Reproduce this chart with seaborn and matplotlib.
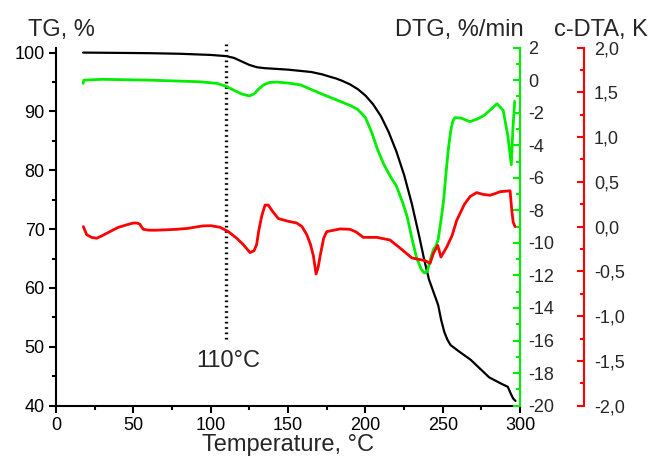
import numpy as np
import pandas as pd
import matplotlib
matplotlib.use("Agg")
import matplotlib.pyplot as plt
import seaborn as sns
from matplotlib.ticker import MultipleLocator, FuncFormatter

# --- data ---
tg_temp = [17.5, 40, 60, 80, 100, 110, 115, 120, 125, 130, 135, 150, 165, 172,
           177, 181, 185, 190, 195, 200, 205, 210, 215, 220, 225, 230, 235, 238,
           241, 244, 247, 249, 251, 253, 255, 260, 268, 280, 288, 292, 294,
           295.5, 297]
tg_val = [100.0, 99.95, 99.9, 99.8, 99.6, 99.4, 99.1, 98.5, 97.9, 97.5, 97.35,
          97.1, 96.7, 96.3, 95.9, 95.6, 95.2, 94.6, 93.8, 92.7, 91.2, 89.2,
          86.5, 83.2, 79.2, 74.3, 68.5, 64.8, 61.5, 59.3, 57.1, 54.5, 52.5,
          51.2, 50.3, 49.3, 47.8, 44.8, 43.7, 43.2, 42.0, 41.2, 40.8]

dtg_temp = [17.5, 18, 30, 60, 93, 104, 110, 115, 120, 125, 128, 131, 134, 138,
            143, 150, 158, 168, 177, 184, 190, 195, 200, 204, 208, 212, 216,
            220, 224, 227, 230, 233, 236, 238, 240, 242, 244, 245.5, 247, 249,
            250.5, 252, 253.5, 255, 256.5, 258, 262, 267.6, 272, 277, 281, 285,
            289, 292, 294.3, 295.3, 296.5]
dtg_val = [-0.2, 0.0, 0.05, 0.0, -0.1, -0.2, -0.38, -0.62, -0.85, -0.97, -0.85,
           -0.55, -0.3, -0.14, -0.12, -0.18, -0.29, -0.7, -1.05, -1.32, -1.55,
           -1.8, -2.3, -3.2, -4.3, -5.2, -5.9, -6.5, -7.5, -8.4, -9.7, -10.9,
           -11.6, -11.85, -11.75, -11.0, -10.4, -10.2, -9.8, -8.5, -7.4, -5.8,
           -4.3, -3.2, -2.5, -2.3, -2.34, -2.55, -2.4, -2.15, -1.8, -1.45, -1.85,
           -3.4, -5.2, -3.0, -1.3]

dta_temp = [17.7, 19.8, 23, 26.3, 30, 34.9, 40, 45.7, 50, 52.2, 54, 56.4, 60,
            65, 72, 78, 85, 95, 100, 106, 111.4, 116.8, 121, 125.4, 128, 129.7,
            131, 133, 135.1, 137.2, 140, 143.7, 150, 155.6, 159, 162.1, 164.5,
            166.4, 168.1, 169.5, 170.7, 173, 175, 183.6, 190, 194, 198.6, 207.3,
            215.9, 222.4, 230, 238.5, 241.8, 243.9, 246.7, 248.8, 252.5, 256,
            259, 264, 267.6, 271.9, 276, 280.5, 284, 287, 293.5, 294.6, 295.5,
            296.7]
dta_val = [0.0, -0.09, -0.12, -0.13, -0.1, -0.056, -0.01, 0.02, 0.04, 0.04,
           0.03, -0.03, -0.04, -0.04, -0.035, -0.03, -0.02, 0.008, 0.01, -0.007,
           -0.056, -0.13, -0.2, -0.29, -0.27, -0.2, -0.05, 0.12, 0.24, 0.24,
           0.17, 0.09, 0.06, 0.04, 0.0, -0.09, -0.2, -0.33, -0.53, -0.45, -0.33,
           -0.13, -0.056, -0.026, -0.03, -0.06, -0.12, -0.12, -0.15, -0.24,
           -0.35, -0.38, -0.41, -0.3, -0.21, -0.34, -0.23, -0.1, 0.07, 0.25,
           0.335, 0.38, 0.36, 0.35, 0.37, 0.39, 0.40, 0.18, 0.05, 0.0]

marker_temp = 110
x_ticks = [0, 50, 100, 150, 200, 250, 300]

tg = pd.DataFrame({"T": tg_temp, "v": tg_val})
dtg = pd.DataFrame({"T": dtg_temp, "v": dtg_val})
dta = pd.DataFrame({"T": dta_temp, "v": dta_val})

sns.set_theme(style="white")
plt.rcParams["font.family"] = ["Liberation Sans", "DejaVu Sans"]

GREEN = "#00ee00"
RED = "#ff0000"

fig = plt.figure(figsize=(6.51, 4.62), dpi=100)
ax = fig.add_axes([0.086, 0.122, 0.713, 0.775])
ax2 = ax.twinx()
ax3 = ax.twinx()

sns.lineplot(data=tg, x="T", y="v", ax=ax, color="black", lw=1.6, sort=False)
sns.lineplot(data=dtg, x="T", y="v", ax=ax2, color=GREEN, lw=2.0, sort=False)
sns.lineplot(data=dta, x="T", y="v", ax=ax3, color=RED, lw=2.0, sort=False)

# --- main axis ---
ax.set_xlim(0, 300)
ax.set_ylim(40, 100.85)
ax.set_xticks(x_ticks)
ax.xaxis.set_minor_locator(MultipleLocator(25))
ax.yaxis.set_major_locator(MultipleLocator(10))
ax.yaxis.set_minor_locator(MultipleLocator(5))
for s in ["top", "right"]:
    ax.spines[s].set_visible(False)
for s in ["left", "bottom"]:
    ax.spines[s].set_linewidth(1.5)
    ax.spines[s].set_color("black")
ax.tick_params(which="both", direction="out", width=1.5, colors="black",
               labelsize=13, left=True, bottom=True, pad=3)
ax.tick_params(which="major", length=5)
ax.tick_params(which="minor", length=3)
ax.set_xlabel("Temperature, °C", fontsize=17, labelpad=0)
ax.set_ylabel("")

# --- DTG axis ---
ax2.set_ylim(-20, 2)
ax2.yaxis.set_major_locator(MultipleLocator(2))
ax2.yaxis.set_minor_locator(MultipleLocator(1))
ax2.yaxis.set_major_formatter(FuncFormatter(lambda v, p: f"{v:.0f}".replace("\u2212", "-")))
for s in ["top", "left", "bottom"]:
    ax2.spines[s].set_visible(False)
ax2.spines["right"].set_color(GREEN)
ax2.spines["right"].set_linewidth(1.5)
ax2.tick_params(which="both", direction="in", width=1.5, color=GREEN,
                labelsize=13, right=True, left=False, pad=6)
ax2.tick_params(which="major", length=5)
ax2.tick_params(which="minor", length=3)
ax2.set_ylabel("")

# --- c-DTA axis ---
ax3.set_ylim(-2, 2)
ax3.spines["right"].set_position(("axes", 1.138))
ax3.yaxis.set_major_locator(MultipleLocator(0.5))
ax3.yaxis.set_minor_locator(MultipleLocator(0.25))
ax3.yaxis.set_major_formatter(FuncFormatter(lambda v, p: f"{v:.1f}".replace(".", ",")))
for s in ["top", "left", "bottom"]:
    ax3.spines[s].set_visible(False)
ax3.spines["right"].set_color(RED)
ax3.spines["right"].set_linewidth(1.5)
ax3.tick_params(which="both", direction="in", width=1.5, color=RED,
                labelsize=13, right=True, left=False, pad=7)
ax3.tick_params(which="major", length=5)
ax3.tick_params(which="minor", length=3)
ax3.set_ylabel("")

# dotted 110 °C marker
ax.plot([marker_temp, marker_temp], [51.3, 102.0], color="black", lw=2.4,
        ls=(0, (0.5, 1.1)), clip_on=False, zorder=5)
ax.text(marker_temp + 1.5, 47.6, f"{marker_temp}°C", fontsize=17,
        ha="center", va="center")

# axis titles
fig.text(0.043, 0.935, "TG, %", fontsize=17, ha="left", va="center")
fig.text(0.804, 0.935, "DTG, %/min", fontsize=17, ha="right", va="center")
fig.text(0.995, 0.935, "c-DTA, K", fontsize=17, ha="right", va="center")

fig.savefig("out.png", dpi=100)
